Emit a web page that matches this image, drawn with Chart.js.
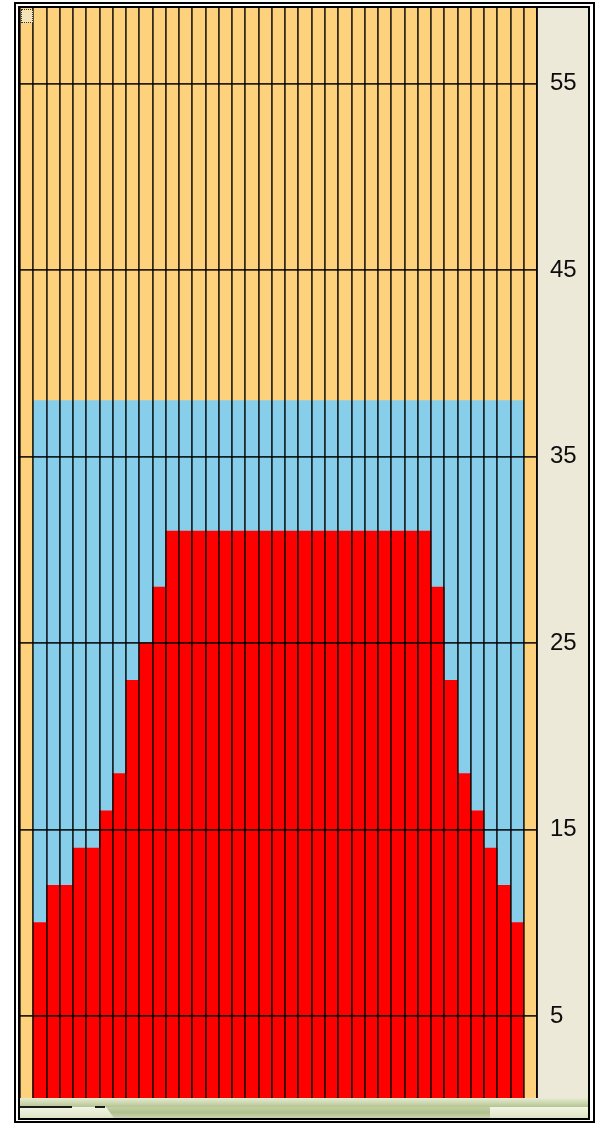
<!DOCTYPE html>
<html><head><meta charset="utf-8">
<script src="https://cdn.jsdelivr.net/npm/chart.js@4.4.1/dist/chart.umd.min.js"></script>
<style>
html,body{margin:0;padding:0;background:#fff;width:600px;height:1124px;overflow:hidden;}
#outer{position:absolute;left:14px;top:2px;width:581px;height:1121px;box-sizing:border-box;border:2px solid #000;}
#inner{position:absolute;left:18px;top:6px;width:572px;height:1114px;box-sizing:border-box;border:2px solid #000;background:#ece9d8;}
#wrap{position:absolute;left:20px;top:8px;width:568px;height:1090px;}
#stripTop{position:absolute;left:20px;top:1098px;width:568px;height:9px;background:linear-gradient(#e6ecd2,#c9d5ab 60%,#b4c392);}
#stripLine1{position:absolute;left:20px;top:1106px;width:52px;height:2px;background:#1a1a1a;}
#stripLine2{position:absolute;left:95px;top:1106px;width:10px;height:2px;background:#1a1a1a;}
#stripBot{position:absolute;left:20px;top:1107px;width:568px;height:11px;background:linear-gradient(#f2f4e4,#dde4c6);}
#stripMid{position:absolute;left:106px;top:1107px;width:384px;height:11px;background:linear-gradient(#c3cfa3,#b2c190 50%,#c8d3ad);clip-path:polygon(0 0,100% 0,100% 100%,8px 100%);}
#focus{position:absolute;left:21px;top:9px;width:10px;height:12px;border:1px dotted #333;background:#f4e2b8;}
</style></head>
<body>
<div id="outer"></div>
<div id="inner"></div>
<div id="wrap"><canvas id="c" width="568" height="1090"></canvas></div>
<div id="stripTop"></div>
<div id="stripBot"></div>
<div id="stripMid"></div>
<div id="stripLine1"></div>
<div id="stripLine2"></div>
<div id="focus"></div>
<script>
const categories = ['1','2','3','4','5','6','7','8','9','10','11','12','13','14','15','16','17','18','19','20','21','22','23','24','25','26','27','28','29','30','31','32','33','34','35','36','37','38','39'];
const redValues  = [0,10,12,12,14,14,16,18,23,25,28,31,31,31,31,31,31,31,31,31,31,31,31,31,31,31,31,31,31,31,31,28,23,18,16,14,12,10,0];
const blueValues = [0,28,26,26,24,24,22,20,15,13,10,7,7,7,7,7,7,7,7,7,7,7,7,7,7,7,7,7,7,7,7,10,15,20,22,24,26,28,0];
const tickValues = [5,15,25,35,45,55];
const yMin = 0.6, yMax = 59.05;

const areaBg = {
  id:'areaBg',
  beforeDraw(chart){
    const {ctx, chartArea:a} = chart;
    ctx.save();
    ctx.fillStyle = '#fed17c';
    ctx.fillRect(a.left, a.top, a.right - a.left, a.bottom - a.top);
    ctx.restore();
  }
};

new Chart(document.getElementById('c'), {
  type:'bar',
  data:{
    labels: categories,
    datasets:[
      {data: redValues, backgroundColor:'#ff0000', borderWidth:0},
      {data: blueValues, backgroundColor:'#87ceeb', borderWidth:0}
    ]
  },
  options:{
    responsive:false,
    animation:false,
    categoryPercentage:1,
    barPercentage:1,
    layout:{padding:0},
    plugins:{legend:{display:false}, tooltip:{enabled:false}},
    scales:{
      x:{
        stacked:true,
        grid:{offset:true, color:'rgba(0,0,0,0.8)', lineWidth:1.8, drawTicks:false, z:1},
        ticks:{display:false},
        border:{display:false},
        afterFit(s){ s.height = 0; s.paddingLeft = 0; s.paddingRight = 0; }
      },
      y:{
        stacked:true,
        position:'right',
        min:yMin, max:yMax,
        grid:{color:'rgba(0,0,0,0.85)', lineWidth:1.8, drawTicks:false, z:1},
        border:{display:true, color:'rgba(0,0,0,0.8)', width:1.8, z:1},
        ticks:{color:'#0d0d0d', font:{family:'Liberation Sans', size:24}, padding:13},
        afterBuildTicks(s){ s.ticks = tickValues.map(v => ({value:v})); },
        afterFit(s){ s.width = 51; s.paddingTop = 0; s.paddingBottom = 0; }
      }
    }
  },
  plugins:[areaBg]
});
</script>
</body></html>
